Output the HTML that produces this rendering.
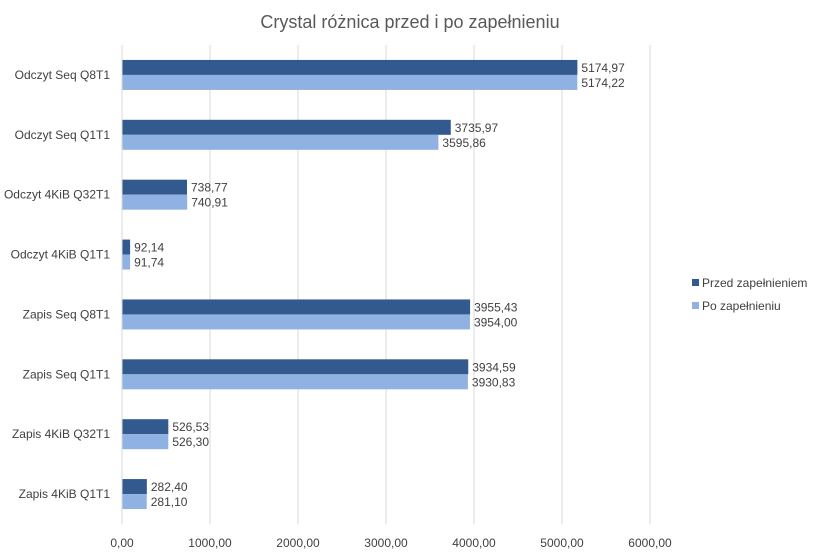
<!DOCTYPE html>
<html><head><meta charset="utf-8"><style>
body{margin:0;background:#fff;}
svg{display:block;font-family:"Liberation Sans",sans-serif;}
</style></head><body>
<svg id="c" width="820" height="554"></svg>
<script>
const categories=["Odczyt Seq Q8T1","Odczyt Seq Q1T1","Odczyt 4KiB Q32T1","Odczyt 4KiB Q1T1","Zapis Seq Q8T1","Zapis Seq Q1T1","Zapis 4KiB Q32T1","Zapis 4KiB Q1T1"];
const before=[5174.97,3735.97,738.77,92.14,3955.43,3934.59,526.53,282.40];
const after=[5174.22,3595.86,740.91,91.74,3954.00,3930.83,526.30,281.10];
const ticks=[0,1000,2000,3000,4000,5000,6000];
const seriesNames=["Przed zapełnieniem","Po zapełnieniu"];
const colors=["#335a8e","#8fb2e2"];
const svg=document.getElementById('c');
const NS="http://www.w3.org/2000/svg";
const x0=122,x1=650,plotTop=45,plotBottom=524;
const xs=v=>x0+(v/6000)*(x1-x0);
const band=(plotBottom-plotTop)/categories.length;
const fmt=v=>v.toFixed(2).replace('.',',');
function mk(tag,attrs,text){const e=document.createElementNS(NS,tag);for(const k in attrs)e.setAttribute(k,attrs[k]);if(text!==undefined)e.textContent=text;svg.appendChild(e);return e;}
const t=mk('text',{x:410,y:28,'text-anchor':'middle','font-size':18,fill:'#595959'},'Crystal różnica przed i po zapełnieniu');


ticks.forEach(v=>{
 const l=mk('line',{x1:xs(v),x2:xs(v),y1:plotTop,y2:plotBottom,stroke:'#d9d9d9','stroke-width':1});
 
 
 const tt=mk('text',{x:xs(v),y:547,'text-anchor':'middle','font-size':12,fill:'#404040'},fmt(v));
 
 
});
categories.forEach((c,i)=>{
 const cy=plotTop+band*(i+0.5);
 const lab=mk('text',{x:110,y:cy+4,'text-anchor':'end','font-size':12,fill:'#404040'},c);
 
 
 [before[i],after[i]].forEach((v,s)=>{
  const y=cy-15+s*15;
  const r=mk('rect',{x:x0,y:y,width:xs(v)-x0,height:15,fill:colors[s]});
  
  
  const vt=mk('text',{x:xs(v)+4,y:y+12,'font-size':12,fill:'#404040'},fmt(v));
  
  
 });
});
const ax=mk('line',{x1:x0,x2:x0,y1:plotTop,y2:plotBottom,stroke:'#d9d9d9'});


seriesNames.forEach((n,s)=>{
 const r=mk('rect',{x:692,y:279+s*23,width:7,height:7,fill:colors[s]});
 
 
 const tx=mk('text',{x:702,y:287+s*23,'font-size':12,fill:'#404040'},n);
 
 
});
</script>
</body></html>
